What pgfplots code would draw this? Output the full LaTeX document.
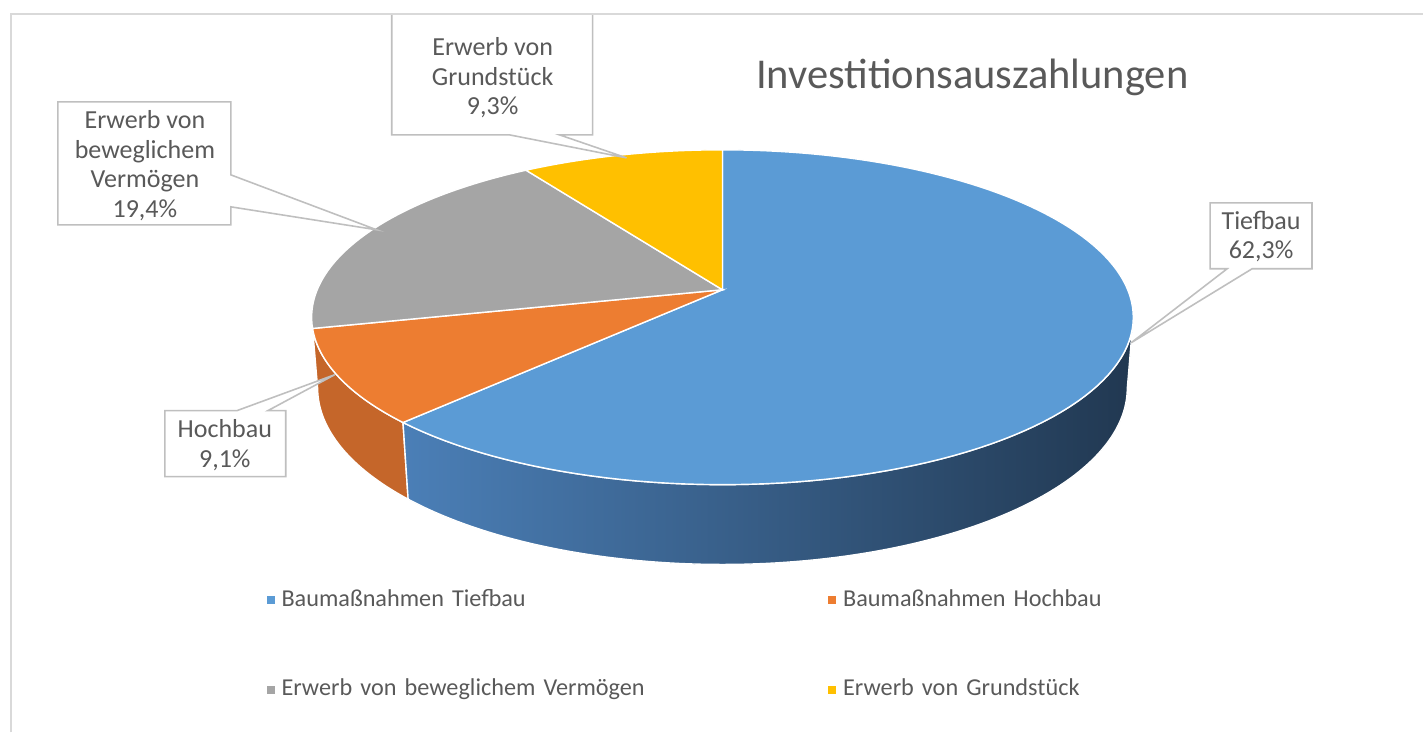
\documentclass[border=0pt]{standalone}
\usepackage{fontspec}
\setmainfont{Carlito}
\usepackage{pgfplots}
\usepackage{pgfplotstable}
\pgfplotsset{compat=1.18}
\usepgfplotslibrary{fillbetween}
\definecolor{cBlue}{HTML}{5B9BD5}
\definecolor{cOrange}{HTML}{ED7D31}
\definecolor{cGray}{HTML}{A5A5A5}
\definecolor{cYellow}{HTML}{FFC000}
\definecolor{cOrangeSide}{HTML}{C5662A}
\definecolor{cBlueL}{HTML}{4B7FB7}
\definecolor{cBlueM}{HTML}{35597F}
\definecolor{cBlueR}{HTML}{213851}
\definecolor{textgray}{HTML}{595959}
\definecolor{boxgray}{HTML}{BFBFBF}
\definecolor{framegray}{HTML}{D9D9D9}

\pgfplotstableread{
label value
Tiefbau 62.3
Hochbau 9.1
Vermoegen 19.4
Grundstueck 9.3
}\piedata

\begin{document}
\begin{tikzpicture}
\pgfplotstablegetelem{0}{value}\of\piedata \let\vA\pgfplotsretval
\pgfplotstablegetelem{1}{value}\of\piedata \let\vB\pgfplotsretval
\pgfplotstablegetelem{2}{value}\of\piedata \let\vC\pgfplotsretval
\pgfplotstablegetelem{3}{value}\of\piedata \let\vD\pgfplotsretval
\pgfmathsetmacro\tot{\vA+\vB+\vC+\vD}
\pgfmathsetmacro\fA{\vA/\tot}
\pgfmathsetmacro\fB{\vB/\tot}
\pgfmathsetmacro\fC{\vC/\tot}
\pgfmathsetmacro\fD{\vD/\tot}
\pgfmathsetmacro\aO{90}
\pgfmathsetmacro\aA{\aO-360*\fA}
\pgfmathsetmacro\aB{\aA-360*\fB}
\pgfmathsetmacro\aC{\aB-360*\fC}
\pgfmathsetmacro\aD{\aC-360*\fD}
\def\FX{2255}
\def\FY{2211}
\def\S{0.41}
\def\C{0.912}
\def\D{5.56}
\def\H{0.195}
\pgfmathsetmacro\sil{asin(\C/\D)}
\pgfmathsetmacro\silR{-\sil}
\pgfmathsetmacro\silL{-180+\sil}
\begin{axis}[
  width=14.24cm, height=7.33cm, scale only axis,
  xmin=-723, xmax=701, ymin=-443, ymax=290,
  hide axis, clip=false,
  declare function={
    den(\t)=\D+\C*sin(\t);
    tx(\t)=\FX*cos(\t)/den(\t);
    ty(\t)=\FY*\S*sin(\t)/den(\t);
    bden(\t)=\D+\H*\S+\C*sin(\t);
    bx(\t)=\FX*cos(\t)/bden(\t);
    by(\t)=\FY*(\S*sin(\t)-\H*\C)/bden(\t);
  },
  legend columns=2,
  legend cell align=left,
  legend image code/.code={\path[#1, draw=none] (0cm,-0.4mm) rectangle (0.8mm,0.4mm);},
  legend style={draw=none, fill=none, inner sep=0pt,
    at={(axis cs:-457,-292)}, anchor=north west,
    font=\fontsize{6.9}{8}\selectfont, text=textgray,
    row sep=0.53cm,
    /tikz/every even column/.append style={text width=5.4cm}},
]
% side faces
\addplot[forget plot, draw=none, name path=otop, domain=\silL:\aA, samples=40] ({tx(x)},{ty(x)});
\addplot[forget plot, draw=none, name path=obot, domain=\silL:\aA, samples=40] ({bx(x)},{by(x)});
\addplot[forget plot, fill=cOrangeSide, draw=white, line width=0.4pt] fill between[of=otop and obot];
\addplot[forget plot, draw=none, name path=btop, domain=\aA:\silR, samples=100] ({tx(x)},{ty(x)});
\addplot[forget plot, draw=none, name path=bbot, domain=\aA:\silR, samples=100] ({bx(x)},{by(x)});
\addplot[forget plot, left color=cBlueL, middle color=cBlueM, right color=cBlueR, draw=white, line width=0.4pt] fill between[of=btop and bbot];
% top faces
\addplot[forget plot, fill=cBlue, draw=white, line width=0.4pt, domain=\aA:\aO, samples=120] ({tx(x)},{ty(x)}) -- (axis cs:0,0) -- cycle;
\addplot[forget plot, fill=cOrange, draw=white, line width=0.4pt, domain=\aB:\aA, samples=30] ({tx(x)},{ty(x)}) -- (axis cs:0,0) -- cycle;
\addplot[forget plot, fill=cGray, draw=white, line width=0.4pt, domain=\aC:\aB, samples=50] ({tx(x)},{ty(x)}) -- (axis cs:0,0) -- cycle;
\addplot[forget plot, fill=cYellow, draw=white, line width=0.4pt, domain=\aD:\aC, samples=30] ({tx(x)},{ty(x)}) -- (axis cs:0,0) -- cycle;

% legend
\addlegendimage{fill=cBlue}
\addlegendentry{Baumaßnahmen Tiefbau}
\addlegendimage{fill=cOrange}
\addlegendentry{Baumaßnahmen Hochbau}
\addlegendimage{fill=cGray}
\addlegendentry{Erwerb von beweglichem Vermögen}
\addlegendimage{fill=cYellow}
\addlegendentry{Erwerb von Grundstück}

% callout boxes
\draw[boxgray, fill=white, line width=0.45pt] (axis cs:-331,276) -- (axis cs:-130,276) -- (axis cs:-130,155) -- (axis cs:-163,155) -- (axis cs:-96,132) -- (axis cs:-213,155) -- (axis cs:-331,155) -- cycle;
\node[align=center, text=textgray, font=\fontsize{7.4}{8.4}\selectfont] at (axis cs:-230,212) {Erwerb von\\Grundstück\\9,3\%};

\draw[boxgray, fill=white, line width=0.45pt] (axis cs:-665,188) -- (axis cs:-492,188) -- (axis cs:-492,115) -- (axis cs:-346,60) -- (axis cs:-492,83) -- (axis cs:-492,65) -- (axis cs:-665,65) -- cycle;
\node[align=center, text=textgray, font=\fontsize{7.4}{8.4}\selectfont] at (axis cs:-578,124) {Erwerb von\\beweglichem\\Vermögen\\19,4\%};

\draw[boxgray, fill=white, line width=0.45pt] (axis cs:488,87) -- (axis cs:590,87) -- (axis cs:590,21) -- (axis cs:530,21) -- (axis cs:409,-53) -- (axis cs:505,21) -- (axis cs:488,21) -- cycle;
\node[align=center, text=textgray, font=\fontsize{7.4}{8.4}\selectfont] at (axis cs:539,53.5) {Tiefbau\\62,3\%};

\draw[boxgray, fill=white, line width=0.45pt] (axis cs:-558,-121) -- (axis cs:-486,-121) -- (axis cs:-388,-85) -- (axis cs:-455,-121) -- (axis cs:-437,-121) -- (axis cs:-437,-187) -- (axis cs:-558,-187) -- cycle;
\node[align=center, text=textgray, font=\fontsize{7.4}{8.4}\selectfont] at (axis cs:-498,-155.5) {Hochbau\\9,1\%};

% title
\node[text=textgray, font=\fontsize{12.1}{14}\selectfont] at (axis cs:250,213) {Investitionsauszahlungen};

% frame
\draw[framegray, line width=0.6pt] (axis cs:-712,-443) -- (axis cs:-712,276) -- (axis cs:701,276);
\end{axis}
\path (current axis.south west) rectangle (current axis.north east);
\end{tikzpicture}
\end{document}
